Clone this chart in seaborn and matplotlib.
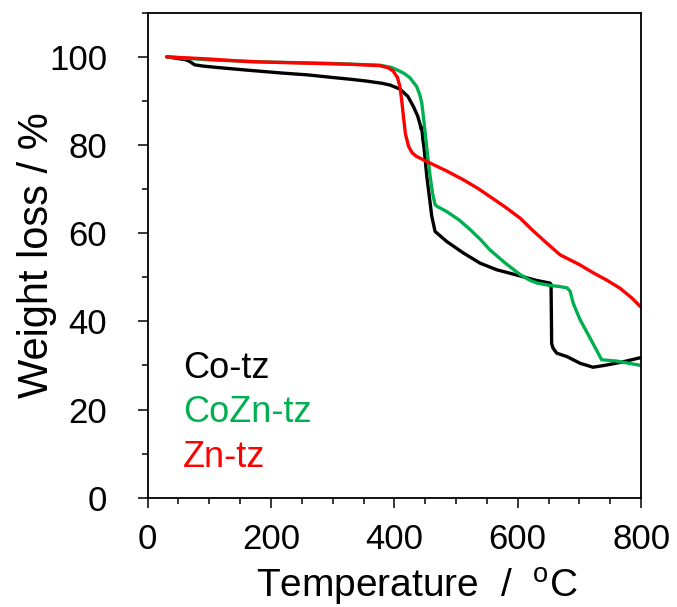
import numpy as np
import pandas as pd
import matplotlib
matplotlib.use("Agg")
import matplotlib.pyplot as plt
import seaborn as sns
from matplotlib.ticker import MultipleLocator

# TGA curves
co_temp = [31, 50, 63, 70, 76, 90, 112, 160, 220, 260, 301, 330, 355, 380, 393, 409, 422, 431,
           438, 442, 443.5, 444.5, 446, 448, 452.6, 457, 460.7, 466, 485, 512, 539, 566, 577,
           604, 630, 652, 654, 655, 657, 663, 680, 701, 722, 740, 770, 800]
co_wt = [100.0, 99.6, 99.3, 98.8, 98.2, 97.9, 97.6, 97.0, 96.3, 95.9, 95.3, 94.9, 94.5, 94.0,
         93.6, 92.7, 91.0, 88.7, 86.5, 84.5, 83.6, 84.0, 81.5, 79.5, 72.9, 68.0, 63.8, 60.4,
         58.1, 55.5, 53.2, 51.7, 51.3, 50.3, 49.3, 48.7, 48.4, 35.0, 34.0, 32.8, 32.0, 30.5,
         29.6, 30.0, 30.8, 31.8]

cozn_temp = [31, 100, 200, 300, 377, 395, 405, 415, 425, 436, 441, 444.5, 447, 450, 454, 458,
             462, 466, 469, 485, 505, 523, 540, 555, 580, 604, 620, 631, 650, 668, 680, 685,
             690, 701, 720, 736, 760, 800]
cozn_wt = [100.0, 99.3, 98.8, 98.5, 98.1, 97.6, 97.0, 96.3, 95.3, 93.3, 91.5, 89.5, 86.5, 82.7,
           77.5, 72.9, 69.0, 66.5, 66.1, 64.9, 63.0, 60.8, 58.5, 56.2, 53.2, 50.6, 49.3, 48.7,
           48.2, 47.9, 47.6, 46.8, 44.1, 40.4, 35.5, 31.3, 31.0, 30.0]

zn_temp = [31, 100, 166, 250, 330, 377, 390, 398, 405, 409, 412, 414.7, 418, 423, 429, 436, 458,
           485, 512, 535, 555, 580, 604, 623, 645, 668.6, 701, 722.6, 745, 766, 785, 800]
zn_wt = [100.0, 99.5, 98.9, 98.6, 98.3, 98.0, 97.5, 96.8, 95.3, 93.3, 90.0, 86.5, 82.5, 79.7,
         78.2, 77.4, 75.9, 74.1, 72.1, 70.2, 68.3, 65.9, 63.4, 60.8, 58.0, 55.1, 52.8, 51.0,
         49.3, 47.5, 45.3, 43.2]

names = ["Co-tz", "CoZn-tz", "Zn-tz"]
colors = ["#000000", "#00B050", "#FF0000"]

sns.set_style("ticks")
plt.rcParams['font.family'] = ['Liberation Sans', 'DejaVu Sans']
plt.rcParams['mathtext.fontset'] = 'custom'
plt.rcParams['mathtext.rm'] = 'Liberation Sans'

fig = plt.figure(figsize=(6.77, 6.07), dpi=100)
ax = fig.add_axes([0.218, 0.180, 0.729, 0.799])

series = [(co_temp, co_wt), (cozn_temp, cozn_wt), (zn_temp, zn_wt)]
for (t, w), c in zip(series, colors):
    df = pd.DataFrame({"T": t, "W": w})
    sns.lineplot(data=df, x="T", y="W", sort=False, color=c, lw=2.4, ax=ax)

ax.set_xlim(0, 800)
ax.set_ylim(0, 110)
ax.xaxis.set_major_locator(MultipleLocator(200))
ax.xaxis.set_minor_locator(MultipleLocator(50))
ax.yaxis.set_major_locator(MultipleLocator(20))
ax.yaxis.set_minor_locator(MultipleLocator(10))
ax.tick_params(which='major', direction='out', length=7, width=1.1, labelsize=25, colors='black')
ax.tick_params(axis='x', which='major', pad=11)
ax.tick_params(axis='y', which='major', pad=22)
ax.tick_params(which='minor', direction='out', length=4.5, width=1.1, colors='black')
for s in ax.spines.values():
    s.set_visible(True)
    s.set_linewidth(1.3)
    s.set_color('black')

ax.set_xlabel("Temperature  /  $^\\mathregular{o}$C", fontsize=28, color='black')
ax.xaxis.label.set_va('baseline')
ax.xaxis.set_label_coords(0.546, -0.206)
ax.set_ylabel("Weight loss / %", fontsize=30, color='black')
ax.yaxis.set_label_coords(-0.183, 0.50)

label_y = [0.2473, 0.1566, 0.0639]
for n, c, yy in zip(names, colors, label_y):
    ax.text(0.0725, yy, n, color=c, fontsize=26, transform=ax.transAxes, va='baseline', ha='left')

fig.savefig("out.png", dpi=100)
